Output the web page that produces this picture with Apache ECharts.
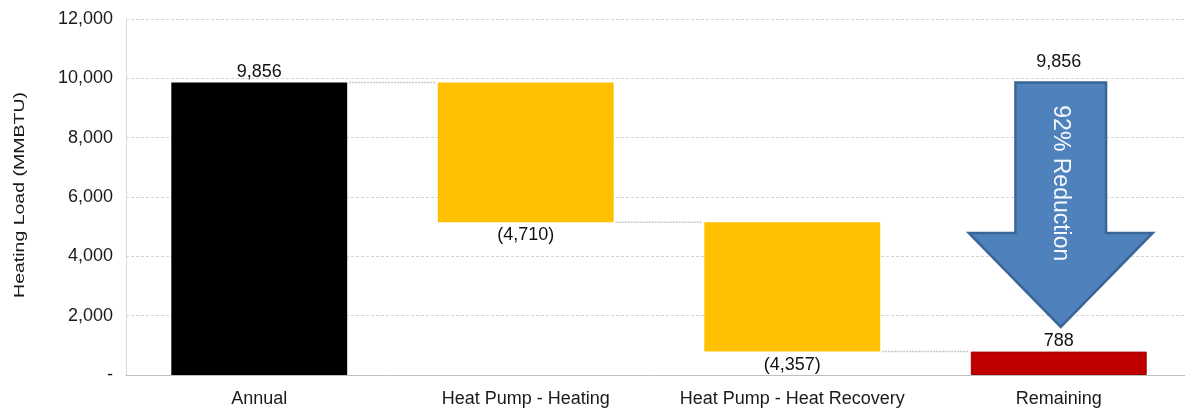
<!DOCTYPE html>
<html>
<head>
<meta charset="utf-8">
<script src="https://cdn.jsdelivr.net/npm/echarts@6/dist/echarts.min.js"></script>
<style>
  html, body { margin: 0; padding: 0; background: #fff; }
  #chart { width: 1185px; height: 416px; }
</style>
</head>
<body>
<div id="chart"></div>
<script>
// Heating load waterfall: annual load, reductions from heat pumps, remaining load
const categories = ['Annual', 'Heat Pump - Heating', 'Heat Pump - Heat Recovery', 'Remaining'];
const annualLoad = 9856;
const reductions = [4710, 4357];          // heat pump heating, heat pump heat recovery
const remainingLoad = 788;
const yTickValues = [0, 2000, 4000, 6000, 8000, 10000, 12000];
// Reduction arrow: starts at the annual load, shoulders and tip levels (MMBTU)
const arrowShoulder = 4790;
const arrowTip = 1620;
const reductionText = '92% Reduction';
const yAxisTitle = 'Heating Load (MMBTU)';

const FONT = 'Liberation Sans, Arial, sans-serif';
const fmt = v => Math.round(v).toLocaleString('en-US');

// running totals after each step
const afterHeating = annualLoad - reductions[0];
const afterRecovery = afterHeating - reductions[1];

const baseValues = [0, afterHeating, afterRecovery, 0];
const barValues = [annualLoad, reductions[0], reductions[1], remainingLoad];
const barColors = ['#000000', '#FFC000', '#FFC000', '#C00000'];
const connectorLevels = [annualLoad, afterHeating, afterRecovery];

const BAR_FRAC = 0.66;

const chart = echarts.init(document.getElementById('chart'));
chart.setOption({
  animation: false,
  grid: { left: 126, width: 1066, top: 19, bottom: 41, outerBoundsMode: 'none' },
  graphic: [{
    type: 'text',
    x: 20, y: 195,
    rotation: Math.PI / 2,
    scaleX: 1.3,
    style: {
      text: yAxisTitle, fill: '#1a1a1a', fontFamily: FONT, fontSize: 15,
      align: 'center', verticalAlign: 'middle'
    }
  }],
  xAxis: {
    type: 'category',
    data: categories,
    axisTick: { show: false },
    axisLine: { lineStyle: { color: '#bfbfbf', width: 1 } },
    axisLabel: { interval: 0, color: '#1a1a1a', fontFamily: FONT, fontSize: 18, margin: 15 }
  },
  yAxis: {
    type: 'value',
    min: 0, max: 12000, interval: 2000,
    axisLine: { show: true, lineStyle: { color: '#d9d9d9' } },
    axisTick: { show: false },
    splitLine: { lineStyle: { color: '#d4d4d4', type: [3, 2], width: 1 } },
    axisLabel: {
      color: '#1a1a1a', fontFamily: FONT, fontSize: 18, margin: 13,
      formatter: v => yTickValues.indexOf(v) === 0 ? '-' : fmt(v)
    }
  },
  series: [
    {
      type: 'bar',
      stack: 'wf',
      silent: true,
      barCategoryGap: '34%',
      itemStyle: { color: 'transparent' },
      data: baseValues
    },
    {
      type: 'bar',
      stack: 'wf',
      barCategoryGap: '34%',
      data: barValues.map((v, i) => ({
        value: v,
        itemStyle: { color: barColors[i], borderColor: i === 3 ? '#a00000' : barColors[i], borderWidth: i === 3 ? 1 : 0 },
        label: {
          show: true,
          position: (i === 1 || i === 2) ? 'bottom' : 'top',
          distance: (i === 1 || i === 2) ? 4 : 2,
          color: '#111',
          fontFamily: FONT,
          fontSize: 18,
          formatter: (i === 1 || i === 2) ? '(' + fmt(v) + ')' : fmt(v)
        }
      }))
    },
    {
      // connector lines between consecutive bars at the running total
      type: 'custom',
      silent: true,
      data: connectorLevels.map((lvl, i) => [i, lvl]),
      renderItem: (params, api) => {
        const i = api.value(0);
        const lvl = api.value(1);
        const band = api.size([1, 0])[0];
        const half = band * BAR_FRAC / 2;
        const p0 = api.coord([i, lvl]);
        const p1 = api.coord([i + 1, lvl]);
        return {
          type: 'line',
          shape: { x1: p0[0] + half + 2, y1: p0[1], x2: p1[0] - half - 2, y2: p1[1] },
          style: { stroke: '#c8c8c8', lineWidth: 1.5, lineDash: [2, 1] }
        };
      }
    },
    {
      // reduction arrow over the remaining bar
      type: 'custom',
      silent: true,
      z: 5,
      data: [[3, annualLoad, arrowShoulder, arrowTip]],
      renderItem: (params, api) => {
        const c = api.value(0);
        const band = api.size([1, 0])[0];
        const top = api.coord([c, api.value(1)]);
        const sh = api.coord([c, api.value(2)]);
        const tip = api.coord([c, api.value(3)]);
        const cx = top[0] + 2;
        const bw = band * 0.17;
        const hw = band * 0.345;
        const pts = [
          [cx - bw, top[1]], [cx + bw, top[1]], [cx + bw, sh[1]], [cx + hw, sh[1]],
          [cx, tip[1]], [cx - hw, sh[1]], [cx - bw, sh[1]]
        ];
        const midY = top[1] + (sh[1] - top[1]) * 0.67;
        return {
          type: 'group',
          children: [
            {
              type: 'polygon',
              shape: { points: pts },
              style: { fill: '#4F81BD', stroke: '#3A6597', lineWidth: 2.5, lineJoin: 'miter' }
            },
            {
              type: 'text',
              x: cx, y: midY,
              rotation: -Math.PI / 2,
              style: {
                text: reductionText, fill: '#f4f7fb', fontFamily: FONT, fontSize: 23,
                align: 'center', verticalAlign: 'middle'
              }
            },
            {
              type: 'text',
              x: cx - 2, y: top[1] - 12,
              style: {
                text: fmt(api.value(1)), fill: '#111', fontFamily: FONT, fontSize: 18,
                align: 'center', verticalAlign: 'bottom'
              }
            }
          ]
        };
      }
    }
  ]
});
</script>
</body>
</html>
